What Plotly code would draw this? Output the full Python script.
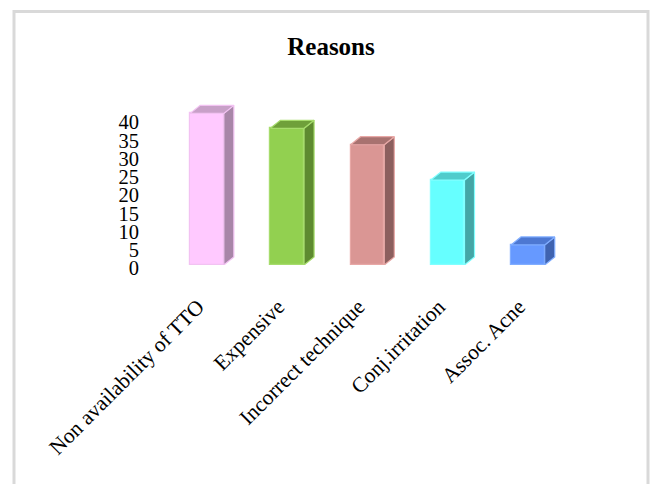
import plotly.graph_objects as go

categories = ["Non availability of TTO", "Expensive", "Incorrect technique", "Conj.irritation", "Assoc. Acne"]
values = [41.6, 37.5, 33.0, 23.3, 5.5]
y_ticks = [0, 5, 10, 15, 20, 25, 30, 35, 40]

front_colors = ["#FFC9FF", "#92D050", "#DA9694", "#66FFFF", "#6699FF"]
side_colors = ["#A886A8", "#5E8A30", "#8C5F5E", "#44A6A6", "#3F63B0"]
top_colors = ["#C8A0C8", "#6FA03A", "#A87270", "#50CCCC", "#4D78D2"]
edge_colors = ["#F2C2F2", "#A6DC6C", "#E8A8A6", "#80FFFF", "#80ADFF"]

W, H = 651, 484
L, R, T, B = 142, 75, 100.75, 219
x_range = [-0.81, 4.6]
y_range = [0, 45]
bar_w = 0.42
dx = 0.125   # depth offset in category units
dy = 2.2     # depth offset in value units

fig = go.Figure()
xs = list(range(len(categories)))
fig.add_trace(go.Bar(
    x=xs, y=values, width=bar_w,
    marker=dict(color=front_colors, line=dict(color=edge_colors, width=1.2)),
    showlegend=False, hoverinfo="skip",
))

for i, v in enumerate(values):
    x0, x1 = i - bar_w / 2, i + bar_w / 2
    # side face
    fig.add_trace(go.Scatter(
        x=[x1, x1, x1 + dx, x1 + dx, x1], y=[0, v, v + dy, dy, 0],
        fill="toself", fillcolor=side_colors[i], mode="lines",
        line=dict(color=edge_colors[i], width=1.2), showlegend=False, hoverinfo="skip",
    ))
    # top face
    fig.add_trace(go.Scatter(
        x=[x0, x1, x1 + dx, x0 + dx, x0], y=[v, v, v + dy, v + dy, v],
        fill="toself", fillcolor=top_colors[i], mode="lines",
        line=dict(color=edge_colors[i], width=1.2), showlegend=False, hoverinfo="skip",
    ))

plot_w = W - L - R
plot_h = H - T - B

def px_to_paper_x(px):
    return (px - L) / plot_w

def px_to_paper_y(py):
    return (H - B - py) / plot_h

fig.add_shape(type="rect", xref="paper", yref="paper",
              x0=px_to_paper_x(14), x1=px_to_paper_x(648),
              y0=px_to_paper_y(495), y1=px_to_paper_y(11),
              line=dict(color="#D9D9D9", width=3), fillcolor="rgba(0,0,0,0)", layer="below")

serif = "Liberation Serif, Times New Roman, serif"
fig.update_layout(
    width=W, height=H,
    margin=dict(l=L, r=R, t=T, b=B, pad=0),
    paper_bgcolor="white", plot_bgcolor="white",
    title=dict(text="<b>Reasons</b>", x=331 / W, xanchor="center",
               y=1 - 46 / H, yanchor="middle", yref="container",
               font=dict(family=serif, size=25, color="black")),
    xaxis=dict(range=x_range, tickmode="array", tickvals=xs, ticktext=categories,
               tickangle=-45, showgrid=False, zeroline=False, showline=False,
               ticks="", ticklabelstandoff=24, ticklabelshift=-9,
               tickfont=dict(family=serif, size=21.5, color="black")),
    yaxis=dict(range=y_range, tickmode="array", tickvals=y_ticks,
               showgrid=False, zeroline=False, showline=False, ticks="",
               ticklabelstandoff=2, ticklabelshift=3,
               tickfont=dict(family=serif, size=20.5, color="black")),
    bargap=0,
)

fig.write_html("out.html")
